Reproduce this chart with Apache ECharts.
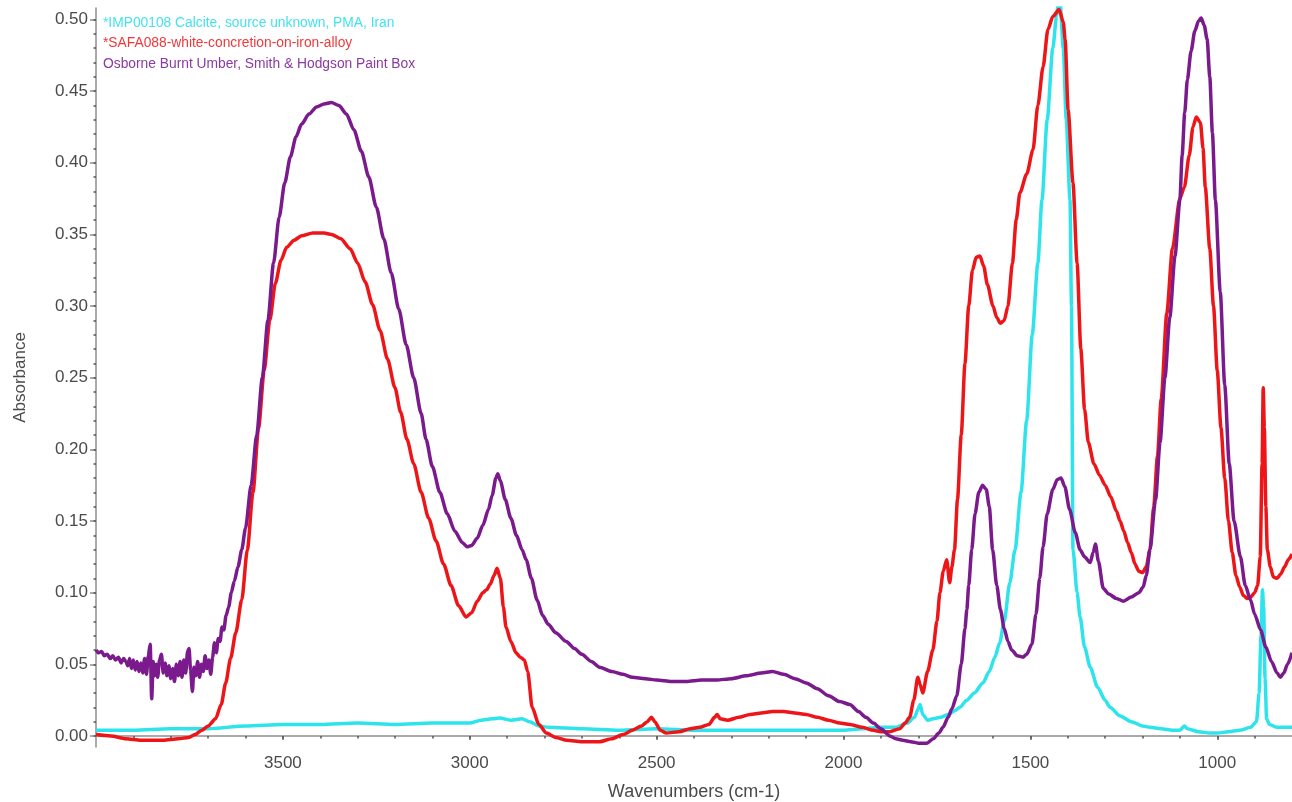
<!DOCTYPE html>
<html>
<head>
<meta charset="utf-8">
<script src="https://cdn.jsdelivr.net/npm/echarts@6/dist/echarts.min.js"></script>
<style>
html,body{margin:0;padding:0;background:#fff;}
#chart{width:1292px;height:802px;}
</style>
</head>
<body>
<div id="chart"></div>
<script>
// ---- Data ----
const seriesNames = [
  "*IMP00108 Calcite, source unknown, PMA, Iran",
  "*SAFA088-white-concretion-on-iron-alloy",
  "Osborne Burnt Umber, Smith & Hodgson Paint Box"
];
const xTickLabels = [1000, 1500, 2000, 2500, 3000, 3500];
const yTickLabels = [0, 0.05, 0.10, 0.15, 0.20, 0.25, 0.30, 0.35, 0.40, 0.45, 0.50];

const calciteWn = [4000,3900,3800,3700,3600,3500,3400,3300,3200,3100,3000,2970,2940,2920,2890,2860,2840,2815,2790,2700,2600,2500,2400,2300,2200,2100,2000,1950,1900,1860,1830,1810,1800,1795,1788,1775,1760,1740,1720,1700,1689,1670,1650,1627,1610,1595,1582,1570,1555,1541,1525,1510,1495,1480,1469,1455,1440,1430,1426,1420,1412,1404,1394,1390,1386,1375,1367,1355,1340,1320,1300,1287,1260,1230,1200,1180,1150,1120,1100,1088,1080,1050,1020,1000,970,940,911,895,888,883,879,876,872,868,860,840,820,800];
const calciteAbs = [0.004,0.004,0.005,0.005,0.007,0.008,0.008,0.009,0.008,0.009,0.009,0.011,0.012,0.0125,0.011,0.012,0.010,0.007,0.006,0.005,0.004,0.005,0.004,0.004,0.004,0.004,0.004,0.005,0.006,0.006,0.009,0.013,0.019,0.022,0.015,0.011,0.012,0.013,0.015,0.018,0.020,0.025,0.030,0.037,0.045,0.055,0.065,0.080,0.107,0.130,0.170,0.220,0.280,0.330,0.374,0.430,0.480,0.502,0.510,0.510,0.480,0.430,0.374,0.300,0.130,0.100,0.083,0.062,0.048,0.034,0.025,0.020,0.014,0.010,0.007,0.006,0.005,0.004,0.004,0.007,0.005,0.003,0.002,0.002,0.003,0.004,0.006,0.010,0.030,0.070,0.102,0.090,0.040,0.012,0.008,0.006,0.006,0.006];

const concretionWn = [4000,3960,3920,3880,3860,3820,3780,3752,3735,3717,3700,3680,3665,3653,3640,3626,3610,3595,3580,3565,3550,3535,3520,3505,3490,3470,3450,3420,3390,3370,3345,3320,3300,3280,3260,3240,3220,3200,3185,3168,3150,3130,3110,3090,3070,3050,3030,3010,2995,2980,2965,2955,2945,2935,2927,2918,2910,2903,2890,2876,2865,2854,2845,2833,2815,2795,2770,2740,2700,2653,2620,2590,2565,2540,2525,2514,2505,2490,2474,2440,2410,2385,2360,2345,2338,2330,2310,2280,2250,2220,2190,2160,2130,2100,2070,2040,2010,1983,1950,1920,1900,1876,1850,1835,1823,1812,1801,1795,1788,1775,1761,1750,1742,1733,1724,1716,1710,1703,1695,1685,1675,1665,1655,1645,1635,1625,1615,1600,1590,1580,1570,1560,1548,1538,1528,1510,1493,1480,1466,1453,1440,1423,1412,1407,1399,1386,1375,1365,1355,1345,1330,1315,1300,1285,1270,1260,1250,1240,1230,1220,1210,1200,1190,1180,1170,1160,1150,1135,1120,1100,1088,1075,1065,1056,1045,1038,1032,1020,1010,1000,990,980,970,960,950,940,930,920,910,900,892,885,880,877,874,870,866,858,850,840,830,820,810,800];
const concretionAbs = [0.001,0.000,-0.002,-0.003,-0.003,-0.003,-0.002,-0.001,0.001,0.004,0.007,0.012,0.022,0.037,0.054,0.072,0.095,0.130,0.170,0.215,0.255,0.290,0.316,0.332,0.341,0.346,0.349,0.351,0.351,0.350,0.347,0.340,0.330,0.317,0.301,0.283,0.263,0.243,0.226,0.207,0.190,0.170,0.152,0.136,0.120,0.105,0.091,0.083,0.086,0.094,0.100,0.102,0.106,0.112,0.117,0.110,0.090,0.076,0.066,0.058,0.055,0.053,0.045,0.020,0.008,0.002,-0.001,-0.003,-0.004,-0.004,-0.002,0.001,0.004,0.007,0.010,0.013,0.010,0.004,0.002,0.003,0.005,0.006,0.008,0.013,0.015,0.012,0.011,0.013,0.015,0.016,0.017,0.017,0.016,0.015,0.013,0.011,0.009,0.008,0.006,0.004,0.003,0.003,0.005,0.009,0.013,0.025,0.041,0.036,0.030,0.045,0.060,0.080,0.100,0.115,0.123,0.107,0.118,0.130,0.165,0.210,0.260,0.300,0.325,0.334,0.335,0.328,0.315,0.300,0.292,0.288,0.290,0.300,0.330,0.360,0.379,0.392,0.409,0.440,0.467,0.493,0.502,0.507,0.498,0.486,0.437,0.386,0.330,0.270,0.228,0.205,0.190,0.182,0.175,0.167,0.157,0.150,0.143,0.135,0.128,0.120,0.115,0.114,0.118,0.130,0.160,0.195,0.235,0.295,0.340,0.375,0.383,0.405,0.425,0.432,0.428,0.410,0.383,0.340,0.300,0.255,0.215,0.180,0.150,0.128,0.112,0.104,0.098,0.096,0.097,0.100,0.105,0.125,0.190,0.243,0.215,0.160,0.130,0.118,0.111,0.110,0.113,0.118,0.123,0.127];

const umberWn = [4000,3993,3985,3978,3970,3962,3955,3948,3940,3933,3926,3920,3915,3910,3905,3900,3895,3890,3885,3880,3875,3870,3865,3860,3855,3851,3847,3843,3839,3835,3830,3825,3820,3815,3810,3805,3800,3795,3790,3785,3780,3775,3770,3765,3760,3755,3751,3747,3742,3738,3733,3728,3723,3718,3713,3708,3703,3698,3693,3688,3683,3678,3673,3668,3663,3658,3652,3645,3638,3630,3620,3610,3600,3585,3570,3555,3540,3525,3510,3495,3480,3465,3450,3430,3410,3390,3370,3350,3330,3310,3290,3270,3250,3230,3210,3190,3170,3150,3130,3117,3100,3080,3060,3040,3020,3007,2995,2980,2965,2950,2940,2930,2925,2918,2905,2890,2875,2860,2849,2835,2820,2805,2790,2770,2742,2720,2700,2675,2653,2620,2590,2565,2530,2500,2460,2420,2380,2340,2300,2260,2220,2190,2160,2130,2100,2070,2040,2010,1983,1960,1940,1920,1900,1876,1860,1841,1820,1800,1777,1760,1745,1734,1720,1710,1697,1685,1675,1670,1665,1657,1648,1638,1628,1618,1610,1601,1590,1580,1570,1560,1550,1535,1520,1510,1496,1485,1475,1466,1455,1440,1428,1418,1408,1395,1380,1367,1355,1340,1332,1326,1318,1305,1290,1270,1251,1230,1210,1198,1190,1180,1165,1153,1140,1127,1113,1100,1094,1087,1080,1070,1060,1050,1043,1035,1027,1020,1013,1005,992,980,968,955,938,925,911,900,884,870,855,840,831,822,812,800];
const umberAbs = [0.060,0.058,0.059,0.056,0.057,0.054,0.056,0.053,0.055,0.051,0.054,0.052,0.049,0.054,0.047,0.053,0.046,0.052,0.045,0.051,0.044,0.054,0.043,0.056,0.064,0.026,0.052,0.042,0.050,0.041,0.053,0.057,0.044,0.051,0.042,0.049,0.040,0.047,0.038,0.050,0.042,0.052,0.041,0.053,0.044,0.059,0.061,0.046,0.031,0.048,0.042,0.052,0.041,0.050,0.045,0.056,0.047,0.053,0.043,0.055,0.065,0.058,0.068,0.066,0.076,0.074,0.084,0.090,0.100,0.108,0.118,0.130,0.145,0.175,0.210,0.250,0.290,0.330,0.362,0.386,0.404,0.418,0.427,0.434,0.439,0.441,0.442,0.440,0.434,0.423,0.408,0.390,0.369,0.347,0.323,0.298,0.273,0.250,0.225,0.207,0.188,0.170,0.155,0.143,0.135,0.132,0.133,0.138,0.147,0.158,0.168,0.180,0.183,0.178,0.165,0.152,0.140,0.130,0.123,0.110,0.095,0.084,0.078,0.072,0.066,0.061,0.057,0.052,0.048,0.045,0.043,0.041,0.040,0.039,0.038,0.038,0.039,0.039,0.040,0.042,0.044,0.045,0.043,0.040,0.037,0.033,0.028,0.024,0.022,0.017,0.013,0.009,0.005,0.000,-0.002,-0.003,-0.004,-0.005,-0.005,-0.002,0.002,0.006,0.013,0.019,0.028,0.050,0.075,0.088,0.105,0.130,0.155,0.170,0.175,0.172,0.160,0.130,0.105,0.088,0.075,0.066,0.060,0.056,0.055,0.057,0.064,0.085,0.110,0.132,0.155,0.172,0.179,0.180,0.174,0.158,0.142,0.130,0.125,0.121,0.128,0.134,0.122,0.103,0.099,0.096,0.094,0.097,0.100,0.104,0.112,0.130,0.165,0.205,0.250,0.292,0.335,0.374,0.405,0.435,0.458,0.478,0.492,0.499,0.501,0.496,0.486,0.460,0.421,0.374,0.310,0.245,0.190,0.150,0.125,0.105,0.095,0.085,0.074,0.062,0.052,0.044,0.041,0.044,0.050,0.058];

// ---- Chart ----
const zip = (a, b) => a.map((v, i) => [v, b[i]]);
const colors = ['#2ee4ec', '#ee1518', '#7a1a8c'];
const legendColors = ['#44e2ee', '#f0383c', '#8a3aa2'];

const yMinor = [];
for (let i = 0; i <= 50; i++) yMinor.push(i / 100);
const xMinor = [];
for (let v = 900; v <= 3900; v += 100) xMinor.push(v);

const axisGray = '#8e8e8e';
const labelColor = '#4a4a4a';
const fontFam = 'Liberation Sans, Arial, sans-serif';

const chart = echarts.init(document.getElementById('chart'), null, {renderer: 'canvas'});
chart.setOption({
  animation: false,
  backgroundColor: '#fff',
  grid: {left: 96, right: 0, top: 8, bottom: 55, containLabel: false, outerBoundsMode: 'none'},
  legend: {
    orient: 'vertical', left: 93, top: 11, itemGap: 6.5, itemWidth: 0, itemHeight: 14,
    icon: 'rect', selectedMode: false,
    textStyle: {fontSize: 13.8, fontFamily: fontFam, padding: [0,0,0,0]},
    data: seriesNames.map((n, i) => ({name: n, textStyle: {color: legendColors[i]}}))
  },
  xAxis: [{
    type: 'value', min: 800, max: 4000, inverse: true, position: 'bottom',
    name: 'Wavenumbers (cm-1)', nameLocation: 'middle', nameGap: 36,
    nameTextStyle: {color: labelColor, fontSize: 18, fontFamily: fontFam},
    axisLine: {show: true, lineStyle: {color: axisGray, width: 1.5}},
    axisTick: {show: true, length: 4, customValues: xTickLabels, lineStyle: {color: axisGray, width: 2}},
    axisLabel: {show: true, customValues: xTickLabels, margin: 8, color: labelColor, fontSize: 17, fontFamily: fontFam,
      formatter: v => String(v)},
    splitLine: {show: false}
  }, {
    type: 'value', min: 800, max: 4000, inverse: true, position: 'bottom',
    axisLine: {show: false},
    axisTick: {show: true, length: 2.5, customValues: xMinor, lineStyle: {color: '#555', width: 1.5}},
    axisLabel: {show: false},
    splitLine: {show: false}
  }],
  yAxis: [{
    type: 'value', min: -0.0077, max: 0.508, position: 'left',
    name: 'Absorbance', nameLocation: 'middle', nameGap: 67, nameRotate: 90,
    nameTextStyle: {color: labelColor, fontSize: 17, fontFamily: fontFam},
    axisLine: {show: true, lineStyle: {color: axisGray, width: 1.5}},
    axisTick: {show: true, length: 6, customValues: yTickLabels, lineStyle: {color: axisGray, width: 1.5}},
    axisLabel: {show: true, customValues: yTickLabels, margin: 8, color: labelColor, fontSize: 17, fontFamily: fontFam,
      formatter: v => Number(v).toFixed(2)},
    splitLine: {show: false}
  }, {
    type: 'value', min: -0.0077, max: 0.508, position: 'left',
    axisLine: {show: false},
    axisTick: {show: true, length: 2.5, customValues: yMinor, lineStyle: {color: '#555', width: 1.5}},
    axisLabel: {show: false},
    splitLine: {show: false}
  }],
  series: [
    {name: seriesNames[0], type: 'line', data: zip(calciteWn, calciteAbs)},
    {name: seriesNames[1], type: 'line', data: zip(concretionWn, concretionAbs)},
    {name: seriesNames[2], type: 'line', data: zip(umberWn, umberAbs)}
  ].map((s, i) => Object.assign(s, {
    xAxisIndex: 0, yAxisIndex: 0, showSymbol: false, symbol: 'none',
    smooth: 0.25, smoothMonotone: 'x',
    lineStyle: {color: colors[i], width: 3.5}, itemStyle: {color: colors[i]},
    clip: true, z: 2 + i
  }))
});
</script>
</body>
</html>
